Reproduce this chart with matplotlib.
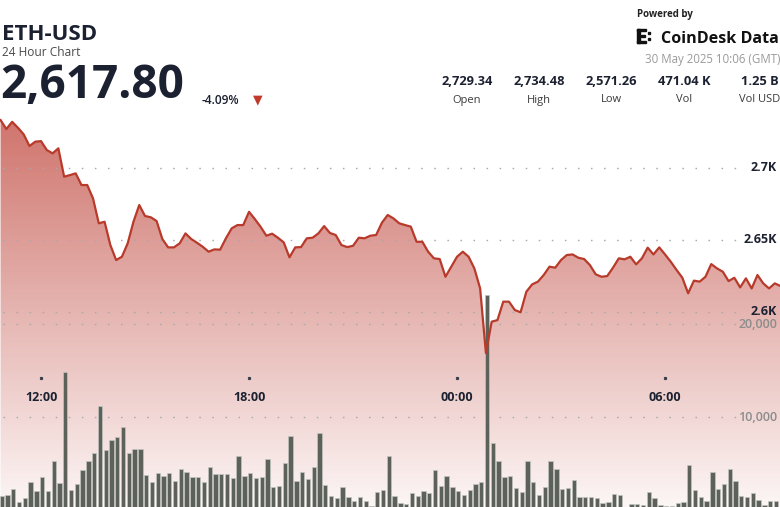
import matplotlib.pyplot as plt
import matplotlib.dates as mdates
import matplotlib.transforms as mtransforms
from matplotlib.patches import Polygon, Rectangle
import numpy as np
import pandas as pd

plt.rcParams['font.family'] = ['Open Sans', 'DejaVu Sans']

# 10 minute ETH-USD prices and volumes
start = "2025-05-29 10:50"
prices = [
    2733.1, 2726.9, 2731.9, 2727.8, 2723.2, 2715.1, 2718.1, 2718.5, 2712.3, 2710.0,
    2713.5, 2693.8, 2694.9, 2696.1, 2688.0, 2688.0, 2678.7, 2661.4, 2662.5, 2646.3,
    2635.9, 2638.2, 2647.5, 2662.5, 2674.1, 2666.5, 2665.6, 2663.0, 2650.5, 2644.7,
    2644.7, 2647.5, 2654.4, 2650.5, 2647.9, 2645.1, 2641.7, 2643.3, 2643.1, 2651.0,
    2657.9, 2660.2, 2660.2, 2669.4, 2664.4, 2659.0, 2652.8, 2654.2, 2651.4, 2648.2,
    2637.8, 2644.7, 2644.9, 2651.0, 2651.4, 2654.4, 2659.5, 2654.7, 2653.3, 2646.3,
    2644.9, 2645.8, 2651.4, 2651.0, 2652.8, 2653.3, 2661.8, 2667.2, 2664.8, 2661.4,
    2660.2, 2659.1, 2648.6, 2648.6, 2641.7, 2637.1, 2636.6, 2624.3, 2631.3, 2638.2,
    2641.7, 2638.2, 2630.1, 2616.2, 2571.3, 2593.1, 2594.2, 2607.0, 2607.0, 2601.2,
    2599.6, 2613.9, 2619.0, 2620.9, 2625.5, 2631.3, 2630.6, 2635.9, 2639.4, 2639.8,
    2637.5, 2636.6, 2632.4, 2626.0, 2624.3, 2624.8, 2630.6, 2637.1, 2636.4, 2638.2,
    2632.9, 2637.1, 2644.5, 2639.8, 2644.7, 2639.8, 2634.7, 2629.0, 2623.6, 2612.8,
    2621.6, 2620.9, 2624.3, 2633.1, 2630.1, 2627.8, 2621.3, 2623.6, 2616.9, 2623.2,
    2616.2, 2625.5, 2619.7, 2616.2, 2619.7, 2617.8,
]
volumes = [
    1565, 1672, 2283, 954, 1319, 3109, 2144, 3645, 2101, 5317,
    2927, 14890, 2208, 2819, 4352, 5317, 6207, 11245, 6496, 7568,
    7922, 8994, 6207, 6571, 6571, 3816, 3034, 3998, 3709, 3998,
    3216, 4502, 4106, 3645, 3645, 3109, 4717, 3966, 3891, 3891,
    3538, 5853, 3709, 3998, 3462, 3570, 5499, 2498, 2637, 5146,
    7997, 3216, 4170, 3387, 4642, 8351, 2744, 1565, 1383, 2498,
    1426, 1061, 1426, 1061, 493, 1962, 2208, 5885, 1565, 850,
    710, 1920, 1565, 2100, 1850, 4350, 2637, 3710, 2500, 2100,
    1680, 2210, 2850, 3100, 23110, 7280, 5350, 3570, 3710, 2390,
    2030, 5350, 3100, 1680, 2570, 5310, 4420, 2300, 2460, 3280,
    1430, 1430, 1500, 1400, 850, 960, 1750, 1680, 100, 710,
    675, 600, 1990, 1320, 600, 530, 530, 850, 920, 4890,
    2170, 1430, 1070, 4170, 2350, 2850, 4420, 3210, 1610, 1430,
    1860, 1140, 600, 1070, 1000, 960,
]
price_ticks = [2600, 2650, 2700]
price_tick_labels = ["2.6K", "2.65K", "2.7K"]
vol_ticks = [10000, 20000]
vol_tick_labels = ["10,000", "20,000"]
time_ticks = ["2025-05-29 12:00", "2025-05-29 18:00",
              "2025-05-30 00:00", "2025-05-30 06:00"]
stat_values = ["2,729.34", "2,734.48", "2,571.26", "471.04 K", "1.25 B"]
stat_labels = ["Open", "High", "Low", "Vol", "Vol USD"]

W, H = 780, 507
NAVY = "#1b2130"
LINE_RED = "#b83a2b"

times = pd.date_range(start, periods=len(prices), freq="10min")
bar_times = times + pd.Timedelta(minutes=2)
x_lo = pd.Timestamp("2025-05-29 10:49")
x_hi = pd.Timestamp("2025-05-30 09:19")
p_lim = (2464.4, 2816.5)
v_lim = (386, 54730)


def fx(px):
    return px / W


def fy(py):
    return 1 - py / H


fig = plt.figure(figsize=(W / 100, H / 100), dpi=100)
ax_fill = fig.add_axes([0, 0, 1, 1])
ax_vol = fig.add_axes([0, 0, 1, 1], sharex=ax_fill)
ax_line = fig.add_axes([0, 0, 1, 1], sharex=ax_fill)
for a in (ax_fill, ax_vol, ax_line):
    a.axis("off")

# gradient area under the price line
xn = mdates.date2num(times)
xl = mdates.date2num([x_lo, x_hi])
ypx = np.linspace(0, H, 300)
alpha = np.interp(ypx, [110, H], [0.76, 0.05])
grad = np.zeros((len(ypx), 1, 4))
grad[:, 0, 0] = 0.75
grad[:, 0, 1] = 0.27
grad[:, 0, 2] = 0.23
grad[:, 0, 3] = alpha
im = ax_fill.imshow(grad, extent=[xl[0], xl[1], p_lim[0], p_lim[1]],
                    aspect="auto", interpolation="bilinear", zorder=1)
verts = [(xn[0], p_lim[0])] + list(zip(xn, prices)) + [(xn[-1], p_lim[0])]
poly = Polygon(verts, closed=True, facecolor="none", edgecolor="none")
ax_fill.add_patch(poly)
im.set_clip_path(poly)

dots = dict(color="#a9a9a9", linewidth=1.0, linestyle=(0, (1.1, 8.3)),
            dash_capstyle="butt")
for p in price_ticks:
    ax_fill.axhline(p, xmin=fx(3), xmax=fx(737), zorder=2, **dots)
ax_fill.set_xlim(xl[0], xl[1])
ax_fill.set_ylim(*p_lim)

# volume bars
for v in vol_ticks:
    ax_vol.axhline(v, xmin=fx(3), xmax=fx(737), zorder=1, **dots)
ax_vol.bar(bar_times, volumes, width=7.6 / 1440, color="#5c6259",
           edgecolor="#c2c4c0", linewidth=0.5, zorder=2)
ax_vol.set_ylim(*v_lim)

# price line
ax_line.plot(times, prices, color=LINE_RED, linewidth=1.6,
             solid_joinstyle="round", zorder=5)
ax_line.set_ylim(*p_lim)
ax_line.set_xlim(x_lo, x_hi)

# axis labels drawn inside the plot
tr_p = mtransforms.blended_transform_factory(ax_line.transAxes, ax_line.transData)
for p, lab in zip(price_ticks, price_tick_labels):
    ax_line.text(fx(777), p, lab, transform=tr_p, ha="right", va="center",
                 fontsize=9, fontweight="bold", color=NAVY, zorder=6)
tr_v = mtransforms.blended_transform_factory(ax_vol.transAxes, ax_vol.transData)
for v, lab in zip(vol_ticks, vol_tick_labels):
    ax_vol.text(fx(777), v, lab, transform=tr_v, ha="right", va="center",
                fontsize=9, fontweight="semibold", color="#8d8d8d")
tr_t = mtransforms.blended_transform_factory(ax_line.transData, ax_line.transAxes)
for t in pd.to_datetime(time_ticks):
    ax_line.plot([t], [fy(377.5)], transform=tr_t, marker="s", markersize=1.3,
                 color="#3a3f4a", linestyle="none")
    ax_line.text(t, fy(397.5), t.strftime("%H:%M"), transform=tr_t,
                 ha="center", va="center", fontsize=9, fontweight="bold",
                 color=NAVY)

# header
fig.text(fx(2), fy(40), "ETH-USD", fontsize=16, fontweight="bold",
         color=NAVY, va="baseline")
fig.text(fx(2), fy(55.5), "24 Hour Chart", fontsize=8.6, color="#4a4a4a",
         va="baseline")
fig.text(fx(0), fy(98), "2,617.80", fontsize=33, fontweight="bold",
         color=NAVY, va="baseline")
fig.text(fx(202), fy(103.5), "-4.09%", fontsize=8.6, fontweight="semibold",
         color=NAVY, va="baseline")
fig.text(fx(258), fy(100), "\u25bc", fontsize=9, color="#c0392b",
         ha="center", va="center", family="DejaVu Sans")

fig.text(fx(637), fy(17), "Powered by", fontsize=7, fontweight="bold",
         color="#222222", va="baseline")
fig.text(fx(779), fy(43), "CoinDesk Data", fontsize=11.6, fontweight="bold",
         color="#111111", ha="right", va="baseline")
# logo mark
for (x, y, w, h) in [(637, 29, 2.6, 14), (637, 29, 9, 2.4), (637, 40.6, 9, 2.4),
                     (641, 35, 4, 2.2), (648, 32, 2.4, 2.4), (648, 38, 2.4, 2.4)]:
    fig.patches.append(Rectangle((fx(x), fy(y + h)), w / W, h / H,
                                 transform=fig.transFigure, color="#111111"))
fig.text(fx(780), fy(63.5), "30 May 2025 10:06 (GMT)", fontsize=8.3,
         color="#9a9a9a", ha="right", va="baseline")

for cx, val, lab in zip([467, 539, 611, 684, 760], stat_values, stat_labels):
    fig.text(fx(cx), fy(85), val, fontsize=9.3, fontweight="bold",
             color=NAVY, ha="center", va="baseline")
    fig.text(fx(cx), fy(102.5), lab, fontsize=8, color="#3a3a3a",
             ha="center", va="baseline")

fig.savefig("out.png", dpi=100)
